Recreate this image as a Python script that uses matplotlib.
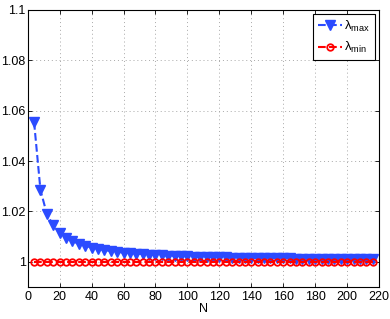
import matplotlib
matplotlib.use("Agg")
import matplotlib.pyplot as plt

N = list(range(4, 217, 4))
lam_max = [1.0555, 1.0285, 1.0190, 1.0145, 1.0115, 1.0095, 1.0082, 1.0072, 1.0064, 1.0057,
           1.0052, 1.0047, 1.0043, 1.0040, 1.0037, 1.0035, 1.0033, 1.0031, 1.0029, 1.0028,
           1.0026, 1.0025, 1.0024, 1.0023, 1.0022, 1.0021, 1.0020, 1.0020, 1.0019, 1.0018,
           1.0018, 1.0017, 1.0017, 1.0016, 1.0016, 1.0015, 1.0015, 1.0015, 1.0014, 1.0014,
           1.0014, 1.0013, 1.0013, 1.0013, 1.0012, 1.0012, 1.0012, 1.0012, 1.0011, 1.0011,
           1.0011, 1.0011, 1.0010, 1.0010]
lam_min = [1.0] * len(N)

xticks = list(range(0, 221, 20))
yticks = [1.0, 1.02, 1.04, 1.06, 1.08, 1.1]
ytick_labels = ["1", "1.02", "1.04", "1.06", "1.08", "1.1"]

plt.rcParams['font.family'] = ['Liberation Sans', 'DejaVu Sans']
plt.rcParams['mathtext.fontset'] = 'custom'
plt.rcParams['mathtext.rm'] = 'Liberation Sans'
plt.rcParams['mathtext.it'] = 'Liberation Sans:italic'

fig = plt.figure(figsize=(3.9, 3.19), dpi=100)
ax = fig.add_axes([0.071, 0.100, 0.901, 0.869])

blue = '#2b4bff'
red = '#ff0000'
ax.plot(N, lam_max, linestyle='--', color=blue, linewidth=1.5, marker='v',
        markersize=6.5, markerfacecolor=blue, markeredgecolor=blue,
        label=r'$\mathrm{\lambda}_{\mathrm{max}}$', zorder=3)
ax.plot(N, lam_min, linestyle='--', color=red, linewidth=1.5, marker='o',
        markersize=4.7, markerfacecolor='none', markeredgecolor=red, markeredgewidth=1.3,
        label=r'$\mathrm{\lambda}_{\mathrm{min}}$', zorder=3)

ax.set_xlim(0, 220)
ax.set_ylim(0.99, 1.1)
ax.set_xticks(xticks)
ax.set_yticks(yticks)
ax.set_yticklabels(ytick_labels)
ax.tick_params(direction='in', top=True, right=True, labelsize=9, length=3, width=0.6)
ax.tick_params(axis='y', pad=1.5)
ax.tick_params(axis='x', pad=3)
ax.grid(True, linestyle=(0, (1, 3)), color='#a8a8a8', linewidth=0.7)
for s in ax.spines.values():
    s.set_linewidth(0.8)
ax.set_xlabel('N', fontsize=9, labelpad=0)

leg = ax.legend(loc='upper right', fontsize=9.5, fancybox=False, framealpha=1,
                edgecolor='black', handlelength=1.8, handletextpad=0.2,
                borderpad=0.35, labelspacing=0.5, borderaxespad=0.3)
leg.get_frame().set_linewidth(0.8)

fig.savefig('out.png', dpi=100)
